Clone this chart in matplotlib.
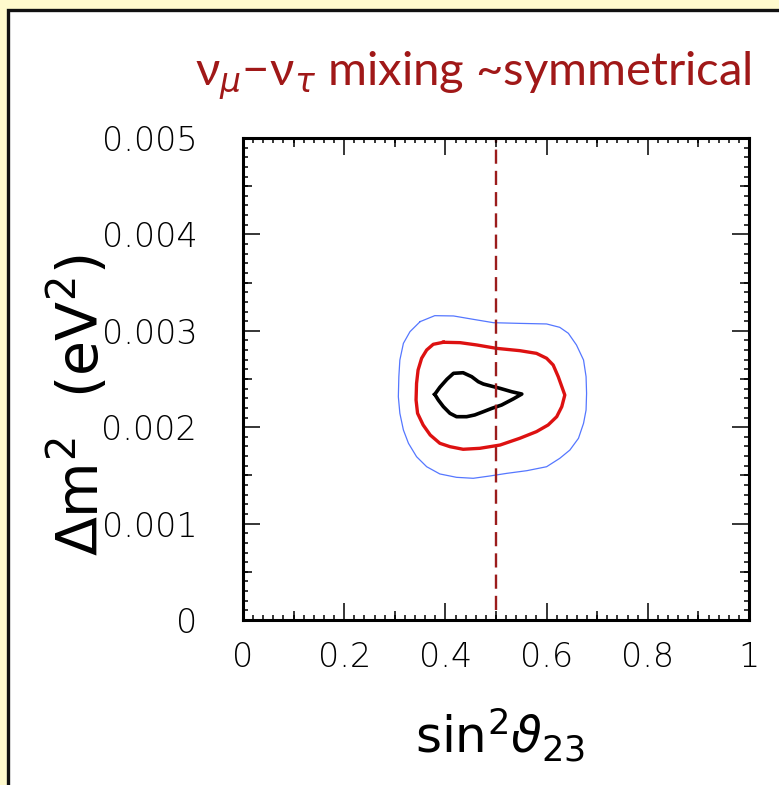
import numpy as np
import matplotlib.pyplot as plt
from matplotlib.patches import Rectangle
from matplotlib.ticker import MultipleLocator

# allowed regions in the (sin^2 theta23, dm^2) plane, one closed curve per level
blue_x = [0.350, 0.379, 0.416, 0.455, 0.495, 0.547, 0.600, 0.626, 0.643, 0.659, 0.673, 0.678,
          0.679, 0.678, 0.673, 0.663, 0.646, 0.626, 0.600, 0.561, 0.521, 0.488, 0.455, 0.422,
          0.389, 0.363, 0.343, 0.327, 0.317, 0.310, 0.307, 0.308, 0.310, 0.317, 0.330]
blue_y = [0.003095, 0.003157, 0.003154, 0.003119, 0.003084, 0.003077, 0.003071, 0.003036,
          0.002974, 0.002853, 0.002697, 0.002524, 0.002351, 0.002178, 0.002040, 0.001885,
          0.001763, 0.001677, 0.001590, 0.001549, 0.001521, 0.001494, 0.001470, 0.001480,
          0.001515, 0.001590, 0.001694, 0.001833, 0.001971, 0.002144, 0.002316, 0.002524,
          0.002697, 0.002870, 0.002991]

red_x = [0.396, 0.429, 0.462, 0.501, 0.547, 0.580, 0.600, 0.613, 0.623, 0.636, 0.630, 0.620,
         0.603, 0.580, 0.547, 0.508, 0.468, 0.435, 0.409, 0.389, 0.370, 0.356, 0.345, 0.342,
         0.343, 0.346, 0.353, 0.363, 0.376]
red_y = [0.002881, 0.002877, 0.002853, 0.002818, 0.002794, 0.002766, 0.002715, 0.002645,
         0.002524, 0.002334, 0.002213, 0.002109, 0.002023, 0.001954, 0.001885, 0.001815,
         0.001781, 0.001771, 0.001798, 0.001833, 0.001919, 0.002023, 0.002144, 0.002282,
         0.002455, 0.002593, 0.002715, 0.002801, 0.002860]

black_x = [0.379, 0.389, 0.403, 0.416, 0.435, 0.452, 0.465, 0.475, 0.508, 0.531, 0.551, 0.534,
           0.511, 0.492, 0.475, 0.458, 0.442, 0.422, 0.409, 0.396, 0.386]
black_y = [0.002341, 0.002414, 0.002497, 0.002559, 0.002565, 0.002524, 0.002472, 0.002448,
           0.002403, 0.002368, 0.002344, 0.002293, 0.002230, 0.002196, 0.002161, 0.002127,
           0.002109, 0.002109, 0.002144, 0.002213, 0.002282]

maximal_mixing = 0.5
x_ticks = [0, 0.2, 0.4, 0.6, 0.8, 1]
x_ticklabels = ['0', '0.2', '0.4', '0.6', '0.8', '1']
y_ticks = [0, 0.001, 0.002, 0.003, 0.004, 0.005]
y_ticklabels = ['0', '0.001', '0.002', '0.003', '0.004', '0.005']

W, H = 779, 785
fig = plt.figure(figsize=(W/100, H/100), dpi=100)
fig.patch.set_facecolor('#fffacd')

# white slide panel with a dark border on the left and top
panel = Rectangle((8/W, -0.1), 1.2, 1 - 10/H + 0.1, transform=fig.transFigure,
                  facecolor='white', edgecolor='#111111', lw=2.4, zorder=-5)
fig.patches.append(panel)

ax = fig.add_axes([243/W, 1 - 620/H, 506/W, 482/H])
ax.set_zorder(2)
ax.set_xlim(0, 1)
ax.set_ylim(0, 0.005)

for xs, ys, c, lw in [(blue_x, blue_y, '#5577ff', 0.9),
                      (red_x, red_y, '#dd1111', 2.4),
                      (black_x, black_y, 'black', 2.6)]:
    ax.plot(xs + xs[:1], ys + ys[:1], color=c, lw=lw, solid_joinstyle='round')

ax.vlines(maximal_mixing, 0.0001, 0.005, colors='#9b1c1c', lw=1.7,
          linestyles=(0, (6, 3)))

for s in ax.spines.values():
    s.set_linewidth(2.2)

tickfont = dict(family='DejaVu Sans', size=24, weight='light')
ax.set_xticks(x_ticks)
ax.set_xticklabels(x_ticklabels, **tickfont)
ax.set_yticks(y_ticks)
ax.set_yticklabels(y_ticklabels, **tickfont)
ax.xaxis.set_minor_locator(MultipleLocator(0.02))
ax.yaxis.set_minor_locator(MultipleLocator(0.0001))
ax.tick_params(which='both', direction='in', top=True, right=True, width=1.1)
ax.tick_params(which='major', length=12)
ax.tick_params(which='minor', length=3.5)
ax.tick_params(axis='x', which='major', pad=15)
ax.tick_params(axis='y', which='major', pad=33)

# medium ticks at the half steps
ax2 = fig.add_axes(ax.get_position(), frameon=False)
ax2.set_zorder(3)
ax2.set_xlim(0, 1)
ax2.set_ylim(0, 0.005)
ax2.set_xticks(np.arange(0.1, 1, 0.2))
ax2.set_yticks(np.arange(0.0005, 0.005, 0.001))
ax2.set_xticklabels([])
ax2.set_yticklabels([])
ax2.tick_params(direction='in', top=True, right=True, length=6.5, width=1.1)
ax2.patch.set_visible(False)

fig.text(500/W, 1 - 735/H, r'sin$^2\vartheta_{23}$', fontsize=36,
         ha='center', va='center', family='DejaVu Sans')
fig.text(78/W, 1 - 405/H, r'$\Delta\mathrm{m}^2$  (eV$^2$)', fontsize=41,
         rotation=90, ha='center', va='center', family='DejaVu Sans')

fig.text(752/W, 1 - 85/H, r'ν$_\mu$−ν$_\tau$ mixing ~symmetrical', fontsize=34,
         color='#a01818', ha='right', va='baseline', family=['Lato', 'DejaVu Sans'])

fig.savefig('out.png', dpi=100, facecolor=fig.get_facecolor())
